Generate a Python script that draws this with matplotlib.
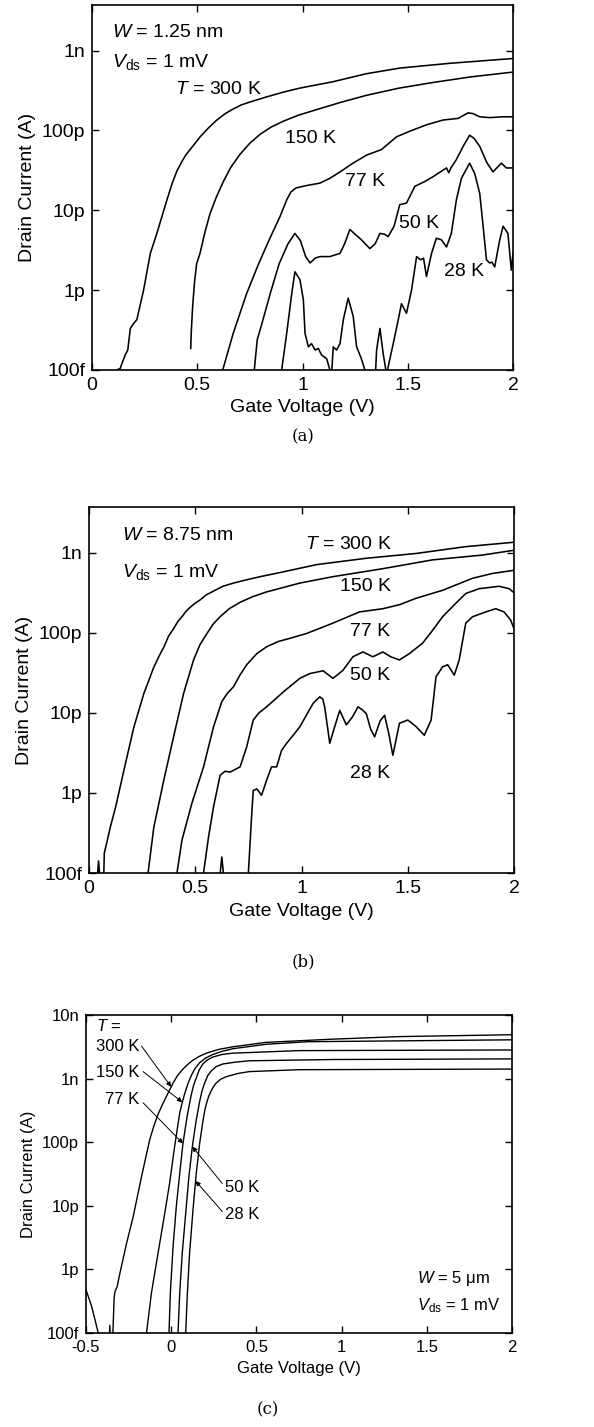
import numpy as np
import matplotlib
matplotlib.use("Agg")
import matplotlib.pyplot as plt
from matplotlib.ticker import FixedLocator, NullLocator

plt.rcParams['font.family'] = ['Liberation Sans', 'DejaVu Sans']
plt.rcParams['mathtext.fontset'] = 'custom'
plt.rcParams['mathtext.rm'] = 'Liberation Sans'
plt.rcParams['mathtext.it'] = 'Liberation Sans:italic'

# ---------------- data: (gate voltage V, log10 drain current A) ----------------
# Panel (a): W = 1.25 nm
A_300K = [(0.10, -13.1), (0.118, -13.0), (0.134, -12.98), (0.145, -12.9), (0.158, -12.81),
          (0.17, -12.75), (0.182, -12.48), (0.197, -12.42), (0.213, -12.37), (0.245, -12.0),
          (0.277, -11.54), (0.308, -11.29), (0.356, -10.87), (0.38, -10.67), (0.403, -10.51),
          (0.425, -10.40), (0.445, -10.31), (0.466, -10.24), (0.514, -10.08), (0.553, -9.97),
          (0.593, -9.87), (0.633, -9.79), (0.672, -9.73), (0.71, -9.68), (0.75, -9.645),
          (0.83, -9.58), (0.91, -9.52), (0.988, -9.47), (1.146, -9.39), (1.304, -9.29),
          (1.462, -9.22), (1.58, -9.19), (1.70, -9.16), (1.85, -9.13), (2.0, -9.10)]
A_150K = [(0.469, -12.73), (0.472, -12.5), (0.478, -12.21), (0.487, -11.9), (0.497, -11.67),
          (0.513, -11.54), (0.537, -11.27), (0.561, -11.04), (0.59, -10.84), (0.624, -10.64),
          (0.66, -10.46), (0.703, -10.30), (0.75, -10.16), (0.798, -10.05), (0.85, -9.96),
          (0.909, -9.885), (0.98, -9.81), (1.067, -9.74), (1.18, -9.65), (1.305, -9.56),
          (1.46, -9.47), (1.62, -9.40), (1.8, -9.33), (2.0, -9.27)]
A_77K = [(0.60, -13.2), (0.621, -13.0), (0.671, -12.54), (0.735, -12.04), (0.79, -11.68),
         (0.84, -11.38), (0.893, -11.08), (0.925, -10.87), (0.945, -10.77), (0.97, -10.72),
         (1.02, -10.69), (1.083, -10.66), (1.13, -10.6), (1.178, -10.52), (1.24, -10.41),
         (1.304, -10.31), (1.375, -10.24), (1.447, -10.08), (1.51, -10.01), (1.589, -9.93),
         (1.668, -9.87), (1.739, -9.85), (1.787, -9.78), (1.81, -9.79), (1.842, -9.83),
         (1.89, -9.84), (1.95, -9.83), (2.0, -9.83)]
A_50K = [(0.76, -13.2), (0.771, -13.0), (0.785, -12.62), (0.806, -12.43), (0.847, -12.04),
         (0.889, -11.67), (0.931, -11.42), (0.964, -11.29), (0.99, -11.38), (1.015, -11.58),
         (1.036, -11.66), (1.06, -11.60), (1.083, -11.58), (1.13, -11.58), (1.178, -11.54),
         (1.2, -11.42), (1.225, -11.24), (1.25, -11.30), (1.28, -11.37), (1.32, -11.48),
         (1.345, -11.42), (1.368, -11.29), (1.39, -11.30), (1.407, -11.33), (1.435, -11.2),
         (1.462, -10.93), (1.494, -10.91), (1.534, -10.70), (1.581, -10.64), (1.62, -10.58),
         (1.684, -10.47), (1.695, -10.53), (1.705, -10.47), (1.73, -10.37), (1.763, -10.20),
         (1.794, -10.06), (1.815, -10.1), (1.842, -10.20), (1.875, -10.40), (1.905, -10.52),
         (1.93, -10.45), (1.945, -10.41), (1.968, -10.47), (2.0, -10.47)]
A_28K = [(0.89, -13.2), (0.901, -13.0), (0.925, -12.54), (0.949, -12.04), (0.964, -11.77),
         (0.988, -11.87), (1.004, -12.12), (1.012, -12.54), (1.028, -12.71), (1.043, -12.67),
         (1.06, -12.75), (1.075, -12.73), (1.09, -12.81), (1.115, -12.86), (1.13, -13.0),
         (1.135, -13.2), (1.146, -12.71), (1.162, -12.75), (1.178, -12.67), (1.194, -12.37),
         (1.217, -12.10), (1.241, -12.33), (1.257, -12.71), (1.28, -12.86), (1.296, -13.0),
         (1.30, -13.2), (1.344, -13.2), (1.352, -12.75), (1.368, -12.48), (1.383, -12.79),
         (1.396, -13.0), (1.40, -13.2), (1.407, -12.96), (1.431, -12.67), (1.455, -12.37),
         (1.47, -12.17), (1.494, -12.29), (1.518, -12.0), (1.542, -11.58), (1.561, -11.62),
         (1.575, -11.60), (1.589, -11.83), (1.613, -11.54), (1.636, -11.35), (1.66, -11.37),
         (1.684, -11.46), (1.707, -11.29), (1.731, -10.87), (1.755, -10.60), (1.794, -10.41),
         (1.818, -10.54), (1.842, -10.79), (1.858, -11.2), (1.874, -11.62), (1.889, -11.66),
         (1.90, -11.65), (1.913, -11.71), (1.937, -11.37), (1.953, -11.20), (1.976, -11.29),
         (1.992, -11.75), (2.0, -11.54)]

# Panel (b): W = 8.75 nm
B_300K = [(0.035, -13.2), (0.045, -12.85), (0.055, -13.2), (0.068, -13.2), (0.072, -12.75),
          (0.083, -12.63), (0.1, -12.43), (0.125, -12.18), (0.164, -11.72), (0.211, -11.18),
          (0.258, -10.76), (0.305, -10.43), (0.33, -10.29), (0.352, -10.18), (0.375, -10.04),
          (0.398, -9.95), (0.418, -9.86), (0.4375, -9.80), (0.457, -9.73), (0.477, -9.68),
          (0.50, -9.63), (0.523, -9.59), (0.55, -9.53), (0.586, -9.48), (0.63, -9.42),
          (0.68, -9.38), (0.74, -9.34), (0.805, -9.30), (0.914, -9.24), (1.07, -9.15),
          (1.305, -9.07), (1.54, -9.01), (1.773, -8.925), (2.0, -8.87)]
B_150K = [(0.27, -13.2), (0.278, -13.0), (0.305, -12.43), (0.352, -11.84), (0.398, -11.3),
          (0.445, -10.76), (0.492, -10.34), (0.522, -10.15), (0.555, -10.01), (0.585, -9.89),
          (0.617, -9.80), (0.66, -9.70), (0.711, -9.62), (0.77, -9.55), (0.836, -9.49),
          (0.992, -9.38), (1.148, -9.30), (1.383, -9.20), (1.617, -9.09), (1.852, -9.03),
          (2.0, -8.97)]
B_77K = [(0.405, -13.2), (0.414, -13.0), (0.4375, -12.59), (0.484, -12.13), (0.539, -11.675),
         (0.586, -11.175), (0.625, -10.86), (0.65, -10.76), (0.68, -10.675), (0.71, -10.53),
         (0.742, -10.40), (0.79, -10.26), (0.836, -10.175), (0.89, -10.11), (0.945, -10.07),
         (1.023, -10.01), (1.148, -9.88), (1.273, -9.74), (1.383, -9.70), (1.461, -9.65),
         (1.539, -9.57), (1.664, -9.47), (1.805, -9.32), (1.898, -9.26), (2.0, -9.22)]
B_50K = [(0.53, -13.2), (0.539, -13.0), (0.5625, -12.55), (0.586, -12.175), (0.617, -11.78),
         (0.64, -11.73), (0.664, -11.74), (0.711, -11.675), (0.742, -11.425), (0.773, -11.09),
         (0.80, -11.0), (0.836, -10.925), (0.914, -10.74), (0.992, -10.57), (1.039, -10.51),
         (1.102, -10.475), (1.148, -10.57), (1.195, -10.47), (1.242, -10.30), (1.289, -10.24),
         (1.336, -10.30), (1.383, -10.24), (1.42, -10.30), (1.461, -10.34), (1.508, -10.26),
         (1.57, -10.13), (1.617, -9.97), (1.664, -9.80), (1.727, -9.63), (1.773, -9.51),
         (1.836, -9.45), (1.93, -9.42), (1.977, -9.45), (2.0, -9.50)]
B_28K = [(0.61, -13.2), (0.625, -12.8), (0.64, -13.2), (0.74, -13.2), (0.75, -13.0),
         (0.765, -12.3), (0.773, -11.97), (0.79, -11.95), (0.812, -12.03), (0.836, -11.84),
         (0.859, -11.675), (0.883, -11.675), (0.906, -11.47), (0.93, -11.38), (0.961, -11.28),
         (0.992, -11.175), (1.023, -11.03), (1.055, -10.88), (1.086, -10.80), (1.1, -10.83),
         (1.109, -10.925), (1.133, -11.38), (1.156, -11.175), (1.18, -10.97), (1.211, -11.15),
         (1.24, -11.05), (1.266, -10.925), (1.285, -10.96), (1.305, -11.01), (1.325, -11.2),
         (1.344, -11.30), (1.37, -11.1), (1.391, -11.03), (1.41, -11.25), (1.43, -11.53),
         (1.461, -11.13), (1.5, -11.09), (1.52, -11.13), (1.54, -11.175), (1.578, -11.28),
         (1.61, -11.09), (1.633, -10.55), (1.664, -10.425), (1.688, -10.40), (1.719, -10.53),
         (1.742, -10.34), (1.773, -9.88), (1.805, -9.80), (1.867, -9.74), (1.914, -9.70),
         (1.953, -9.74), (1.984, -9.84), (2.0, -9.95)]

# Panel (c): W = 5 um
C_300K = [(-0.5, -12.32), (-0.467, -12.58), (-0.428, -13.0), (-0.42, -13.2), (-0.365, -13.2),
          (-0.36, -12.88), (-0.356, -13.2), (-0.345, -13.2), (-0.335, -12.45), (-0.33, -12.35),
          (-0.317, -12.27), (-0.301, -12.06), (-0.262, -11.59), (-0.223, -11.17),
          (-0.174, -10.54), (-0.126, -9.96), (-0.10, -9.73), (-0.077, -9.56), (-0.05, -9.40),
          (-0.028, -9.28), (0.011, -9.07), (0.04, -8.94), (0.069, -8.85), (0.10, -8.77),
          (0.128, -8.71), (0.165, -8.65), (0.206, -8.60), (0.28, -8.54), (0.362, -8.50),
          (0.557, -8.43), (0.946, -8.38), (1.336, -8.34), (2.0, -8.31)]
C_150K = [(-0.15, -13.2), (-0.145, -13.0), (-0.116, -12.37), (-0.077, -11.74), (-0.038, -11.12),
          (-0.009, -10.64), (0.02, -10.07), (0.05, -9.54), (0.065, -9.37), (0.079, -9.24),
          (0.098, -9.08), (0.118, -8.95), (0.14, -8.84), (0.167, -8.75), (0.2, -8.68),
          (0.245, -8.62), (0.3, -8.57), (0.362, -8.53), (0.557, -8.46), (0.8, -8.42),
          (2.0, -8.39)]
C_77K = [(-0.02, -13.2), (-0.013, -13.0), (-0.005, -12.37), (0.011, -11.64), (0.03, -11.01),
         (0.05, -10.49), (0.069, -10.02), (0.093, -9.60), (0.118, -9.25), (0.132, -9.10),
         (0.147, -8.99), (0.165, -8.86), (0.186, -8.77), (0.21, -8.71), (0.245, -8.66),
         (0.3, -8.62), (0.362, -8.60), (0.751, -8.56), (2.0, -8.55)]
C_50K = [(0.035, -13.2), (0.04, -13.0), (0.05, -12.37), (0.065, -11.74), (0.085, -11.12),
         (0.104, -10.54), (0.124, -10.07), (0.147, -9.65), (0.167, -9.36), (0.18, -9.20),
         (0.196, -9.07), (0.215, -8.95), (0.235, -8.88), (0.265, -8.81), (0.303, -8.77),
         (0.38, -8.74), (0.459, -8.72), (0.946, -8.70), (2.0, -8.69)]
C_28K = [(0.08, -13.2), (0.085, -13.0), (0.095, -12.37), (0.108, -11.74), (0.128, -11.06),
         (0.147, -10.49), (0.167, -10.02), (0.186, -9.67), (0.197, -9.50), (0.206, -9.40),
         (0.22, -9.28), (0.235, -9.19), (0.25, -9.12), (0.264, -9.07), (0.29, -9.01),
         (0.323, -8.97), (0.39, -8.92), (0.459, -8.89), (0.751, -8.86), (2.0, -8.85)]

Y_TICKS_AB = [1e-13, 1e-12, 1e-11, 1e-10, 1e-9]
Y_LABELS_AB = ['100f', '1p', '10p', '100p', '1n']
Y_TICKS_C = [1e-13, 1e-12, 1e-11, 1e-10, 1e-9, 1e-8]
Y_LABELS_C = ['100f', '1p', '10p', '100p', '1n', '10n']
X_TICKS_AB = [0, 0.5, 1, 1.5, 2]
X_LABELS_AB = ['0', '0.5', '1', '1.5', '2']
X_TICKS_C = [-0.5, 0, 0.5, 1, 1.5, 2]
X_LABELS_C = ['-0.5', '0', '0.5', '1', '1.5', '2']

W, H = 594, 1427
fig = plt.figure(figsize=(W / 100, H / 100), dpi=100)


def rect(l, r, t, b):
    return [l / W, 1 - b / H, (r - l) / W, (b - t) / H]


def draw(ax, curve, lw=1.15):
    v = np.array([p[0] for p in curve])
    i = 10.0 ** np.array([p[1] for p in curve])
    ax.plot(v, i, color='black', lw=lw, solid_joinstyle='round')


def style(ax, xt, xl, yt, yl, fs):
    ax.set_yscale('log')
    ax.yaxis.set_major_locator(FixedLocator(yt))
    ax.set_yticklabels(yl)
    ax.yaxis.set_minor_locator(NullLocator())
    ax.set_xticks(xt)
    ax.set_xticklabels(xl)
    ax.tick_params(direction='in', top=True, right=True, length=5, width=1.0,
                   labelsize=fs, pad=5)
    for s in ax.spines.values():
        s.set_linewidth(1.2)
    ax.set_xlabel('Gate Voltage (V)', fontsize=fs)
    ax.set_ylabel('Drain Current (A)', fontsize=fs)


# ---------------- panel (a) ----------------
ax = fig.add_axes(rect(92, 513, 5, 370))
for c in (A_300K, A_150K, A_77K, A_50K, A_28K):
    draw(ax, c)
ax.set_xlim(0, 2)
ax.set_ylim(1e-13, 10 ** -8.43)
style(ax, X_TICKS_AB, X_LABELS_AB, Y_TICKS_AB, Y_LABELS_AB, 14)
fa = 14
ax.text(0.095, 10 ** -8.78, r'$\mathit{W}$ = 1.25 nm', fontsize=fa, va='center')
ax.text(0.095, 10 ** -9.14, r'$\mathit{V}_{\rm ds}$ = 1 mV', fontsize=fa, va='center')
ax.text(0.395, 10 ** -9.49, r'$\mathit{T}$ = 300 K', fontsize=fa, va='center')
ax.text(0.917, 10 ** -10.10, '150 K', fontsize=fa, va='center')
ax.text(1.20, 10 ** -10.64, '77 K', fontsize=fa, va='center')
ax.text(1.46, 10 ** -11.16, '50 K', fontsize=fa, va='center')
ax.text(1.67, 10 ** -11.77, '28 K', fontsize=fa, va='center')
fig.text(303 / W, 1 - 437 / H, '(a)', family='DejaVu Serif', fontsize=12,
         ha='center', va='center')

# ---------------- panel (b) ----------------
ax = fig.add_axes(rect(89, 514, 507, 873))
for c in (B_300K, B_150K, B_77K, B_50K, B_28K):
    draw(ax, c)
ax.set_xlim(0, 2)
ax.set_ylim(1e-13, 10 ** -8.43)
style(ax, X_TICKS_AB, X_LABELS_AB, Y_TICKS_AB, Y_LABELS_AB, 14)
ax.text(0.156, 10 ** -8.78, r'$\mathit{W}$ = 8.75 nm', fontsize=fa, va='center')
ax.text(0.156, 10 ** -9.24, r'$\mathit{V}_{\rm ds}$ = 1 mV', fontsize=fa, va='center')
ax.text(1.016, 10 ** -8.90, r'$\mathit{T}$ = 300 K', fontsize=fa, va='center')
ax.text(1.18, 10 ** -9.42, '150 K', fontsize=fa, va='center')
ax.text(1.23, 10 ** -9.99, '77 K', fontsize=fa, va='center')
ax.text(1.23, 10 ** -10.54, '50 K', fontsize=fa, va='center')
ax.text(1.23, 10 ** -11.76, '28 K', fontsize=fa, va='center')
fig.text(303 / W, 1 - 962 / H, '(b)', family='DejaVu Serif', fontsize=12,
         ha='center', va='center')

# ---------------- panel (c) ----------------
ax = fig.add_axes(rect(86, 512, 1015, 1333))
curves_c = {'300 K': C_300K, '150 K': C_150K, '77 K': C_77K, '50 K': C_50K, '28 K': C_28K}
for c in curves_c.values():
    draw(ax, c, lw=1.0)
ax.set_xlim(-0.5, 2)
ax.set_ylim(1e-13, 1e-8)
style(ax, X_TICKS_C, X_LABELS_C, Y_TICKS_C, Y_LABELS_C, 12)
fc = 12
ax.text(-0.44, 10 ** -8.18, r'$\mathit{T}$ =', fontsize=fc, va='center')
label_pos = {'300 K': (-0.44, -8.50), '150 K': (-0.44, -8.90), '77 K': (-0.39, -9.335),
             '50 K': (0.313, -10.71), '28 K': (0.313, -11.14)}
arrow_from = {'300 K': (-0.174, -8.49), '150 K': (-0.165, -8.89), '77 K': (-0.165, -9.38),
              '50 K': (0.30, -10.65), '28 K': (0.30, -11.09)}
arrow_tip_v = {'300 K': 0.0, '150 K': 0.065, '77 K': 0.069, '50 K': 0.124, '28 K': 0.143}
for k, (x, y) in label_pos.items():
    ax.text(x, 10 ** y, k, fontsize=fc, va='center')
    cv = curves_c[k]
    vv = [p[0] for p in cv]
    ll = [p[1] for p in cv]
    tv = arrow_tip_v[k]
    tl = np.interp(tv, vv, ll)
    fx, fy = arrow_from[k]
    ax.annotate('', xy=(tv, 10 ** tl), xytext=(fx, 10 ** fy),
                arrowprops=dict(arrowstyle='-|>', lw=0.7, color='black',
                                mutation_scale=7, shrinkA=0, shrinkB=0))
ax.text(1.443, 10 ** -12.14, r'$\mathit{W}$ = 5 μm', fontsize=fc, va='center')
ax.text(1.443, 10 ** -12.57, r'$\mathit{V}_{\rm ds}$ = 1 mV', fontsize=fc, va='center')
fig.text(268 / W, 1 - 1410 / H, '(c)', family='DejaVu Serif', fontsize=12,
         ha='center', va='center')

fig.savefig('out.png', dpi=100)
